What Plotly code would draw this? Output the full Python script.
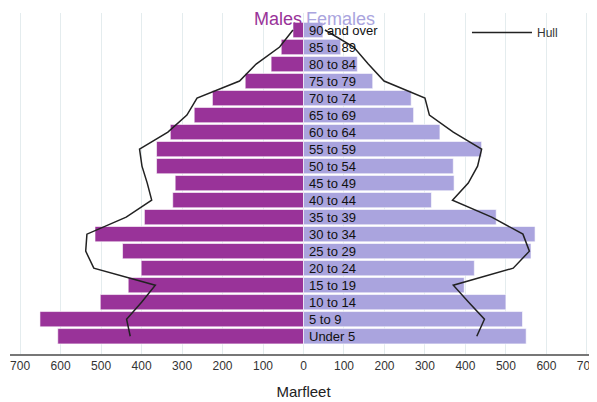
import plotly.graph_objects as go

ages = ["Under 5", "5 to 9", "10 to 14", "15 to 19", "20 to 24", "25 to 29",
        "30 to 34", "35 to 39", "40 to 44", "45 to 49", "50 to 54", "55 to 59",
        "60 to 64", "65 to 69", "70 to 74", "75 to 79", "80 to 84", "85 to 89",
        "90 and over"]
males = [607, 651, 502, 433, 401, 447, 515, 393, 323, 317, 363, 363,
         329, 270, 225, 144, 80, 55, 26]
females = [550, 541, 500, 397, 422, 562, 572, 476, 316, 372, 370, 440,
           337, 272, 266, 171, 133, 92, 48]
hull_males = [428, 437, 400, 366, 518, 538, 535, 438, 375, 386, 399, 405,
              335, 288, 263, 158, 117, 59, 26]
hull_females = [428, 447, 408, 370, 518, 558, 542, 465, 368, 407, 430, 440,
                370, 311, 300, 199, 160, 124, 53]
tick_vals = [-700, -600, -500, -400, -300, -200, -100, 0, 100, 200, 300, 400, 500, 600, 700]
tick_text = [str(abs(v)) for v in tick_vals]

MALE_C = "#993399"
FEMALE_C = "#aaa4de"
FONT = "Liberation Sans, Arial, sans-serif"

idx = list(range(len(ages)))

fig = go.Figure()
fig.add_trace(go.Bar(y=idx, x=[-v for v in males], orientation="h", name="Males",
                     marker=dict(color=MALE_C, line=dict(color="rgba(255,255,255,0.6)", width=1)),
                     width=0.9, showlegend=False, hoverinfo="skip"))
fig.add_trace(go.Bar(y=idx, x=females, orientation="h", name="Females",
                     marker=dict(color=FEMALE_C, line=dict(color="rgba(255,255,255,0.6)", width=1)),
                     width=0.9, showlegend=False, hoverinfo="skip"))

hx = [-v for v in hull_males] + [None] + hull_females
hy = idx + [None] + idx
fig.add_trace(go.Scatter(x=hx, y=hy, mode="lines", name="Hull",
                         line=dict(color="#222222", width=1.5), connectgaps=False))

for i, a in enumerate(ages):
    fig.add_annotation(x=0, y=i, text=a, showarrow=False, xanchor="left", yanchor="middle",
                       xshift=3, font=dict(family=FONT, size=13, color="#111111"))

fig.add_annotation(x=0, y=1, yref="paper", text="Males", showarrow=False, xanchor="right",
                   yanchor="top", xshift=-1, yshift=5, borderpad=0,
                   font=dict(family=FONT, size=18, color=MALE_C))
fig.add_annotation(x=0, y=1, yref="paper", text="Females", showarrow=False, xanchor="left",
                   yanchor="top", xshift=1, yshift=5, borderpad=0,
                   font=dict(family=FONT, size=18, color=FEMALE_C))

fig.update_layout(
    width=597, height=402,
    margin=dict(l=2, r=8, t=5, b=56),
    barmode="overlay", bargap=0.1,
    plot_bgcolor="white", paper_bgcolor="white",
    font=dict(family=FONT, color="#333333"),
    legend=dict(x=0.7785, y=0.985, xanchor="left", yanchor="top", bgcolor="rgba(0,0,0,0)",
                font=dict(family=FONT, size=12, color="#333333"), itemwidth=60),
    xaxis=dict(range=[-725, 725], tickvals=tick_vals, ticktext=tick_text,
               showgrid=True, gridcolor="#e4ecee", gridwidth=1, zeroline=False,
               showline=True, linecolor="#777777", linewidth=1.5,
               ticks="", ticklabeloverflow="allow",
               tickfont=dict(family=FONT, size=12, color="#333333"),
               title=dict(text="Marfleet", font=dict(family=FONT, size=15, color="#222222"), standoff=14)),
    yaxis=dict(range=[-1.045, 19], showticklabels=False, showgrid=False, zeroline=False,
               showline=False, fixedrange=True),
)

fig.write_html("out.html")
